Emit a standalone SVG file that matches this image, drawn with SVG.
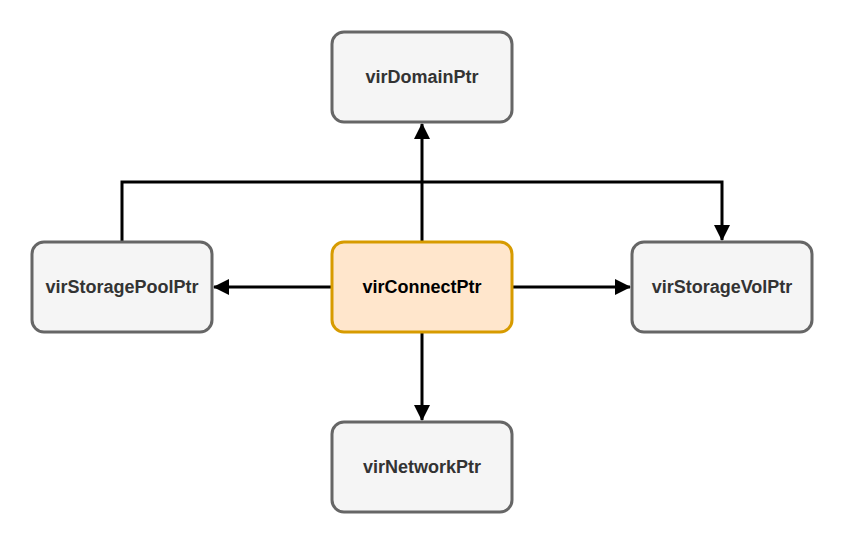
<svg xmlns="http://www.w3.org/2000/svg" width="843" height="543" viewBox="0 0 843 543">
<defs>
<style>
.box{fill:#f5f5f5;stroke:#666666;stroke-width:3}
.main{fill:#ffe6cc;stroke:#d79b00;stroke-width:3}
.lbl{font-family:"Liberation Sans",Arial,sans-serif;font-weight:bold;font-size:18px;fill:#333333;text-anchor:middle;dominant-baseline:central}
.lblm{fill:#000000}
.edge{fill:none;stroke:#000000;stroke-width:3}
</style>
<marker id="arr" viewBox="0 0 16 16" refX="15" refY="8" markerWidth="16" markerHeight="16" markerUnits="userSpaceOnUse" orient="auto">
<path d="M0,0 L16,8 L0,16 Z" fill="#000000"/>
</marker>
</defs>
<rect width="843" height="543" fill="#ffffff"/>
<g id="connectors">
<path class="edge" d="M422,242 L422,124" marker-end="url(#arr)"/>
<path class="edge" d="M332,287 L214,287" marker-end="url(#arr)"/>
<path class="edge" d="M512,287 L630,287" marker-end="url(#arr)"/>
<path class="edge" d="M422,332 L422,420" marker-end="url(#arr)"/>
<path class="edge" d="M122,242 L122,182 L722,182 L722,240" marker-end="url(#arr)"/>
</g>
<g id="virDomainPtr">
<rect class="box" x="332" y="32" width="180" height="90" rx="12"/>
<text class="lbl" x="422" y="77">virDomainPtr</text>
</g>
<g id="virStoragePoolPtr">
<rect class="box" x="32" y="242" width="180" height="90" rx="12"/>
<text class="lbl" x="122" y="287">virStoragePoolPtr</text>
</g>
<g id="virConnectPtr">
<rect class="main" x="332" y="242" width="180" height="90" rx="12"/>
<text class="lbl lblm" x="422" y="287">virConnectPtr</text>
</g>
<g id="virStorageVolPtr">
<rect class="box" x="632" y="242" width="180" height="90" rx="12"/>
<text class="lbl" x="722" y="287">virStorageVolPtr</text>
</g>
<g id="virNetworkPtr">
<rect class="box" x="332" y="422" width="180" height="90" rx="12"/>
<text class="lbl" x="422" y="467">virNetworkPtr</text>
</g>
</svg>
